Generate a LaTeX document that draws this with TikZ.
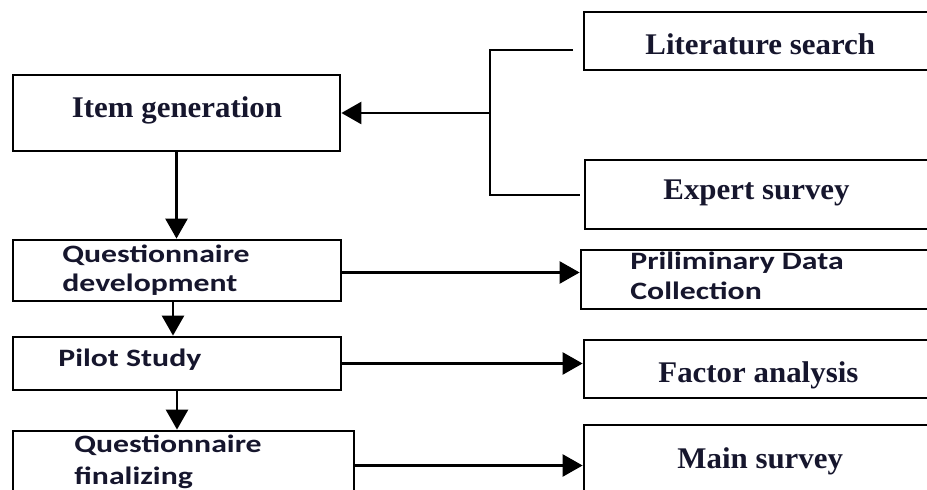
\documentclass[tikz,border=0pt]{standalone}
\usepackage{fontspec}
\newfontfamily\serfont[FakeStretch=1.03]{Liberation Serif}
\newfontfamily\calfont[FakeStretch=1.27]{Carlito}
\usetikzlibrary{arrows.meta,fit}
\definecolor{inkc}{RGB}{22,22,45}
\begin{document}
\begin{tikzpicture}[x=0.5pt,y=-0.5pt,
  box/.style={draw=black,line width=1.4pt,inner sep=0pt,rectangle},
  serifT/.style={font=\serfont\bfseries\fontsize{15pt}{18pt}\selectfont,inner sep=0pt,text=inkc},
  calT/.style={font=\calfont\bfseries\fontsize{12.5pt}{15pt}\selectfont,inner sep=0pt,anchor=base west,text=inkc},
  arr/.style={line width=1.3pt,-{Triangle[length=10pt,width=11pt]}},
  brk/.style={line width=1.1pt}]
\clip (0,0) rectangle (927,490);
\fill[white] (0,0) rectangle (927,490);
% left column
\node[box,fit={(13,75) (340,151)}] (ig) {};
\node[box,fit={(13,240) (341,301)}] (qdev) {};
\node[box,fit={(13,337) (341,390)}] (pilot) {};
\node[box,fit={(13,431) (354,500)}] (qfin) {};
% right column
\node[box,fit={(584,12) (940,70)}] (lit) {};
\node[box,fit={(585,160) (940,229)}] (exp) {};
\node[box,fit={(581,250) (940,309)}] (pre) {};
\node[box,fit={(584,340) (940,398)}] (fac) {};
\node[box,fit={(584,425) (940,505)}] (main) {};
% texts
\node[serifT,anchor=base] (igT) at (177,118) {Item generation};
\node[serifT,anchor=base west] (litT) at (645,55) {Literature search};
\node[serifT,anchor=base west] (expT) at (663,200) {Expert survey};
\node[serifT,anchor=base west] (facT) at (658,383) {Factor analysis};
\node[serifT,anchor=base west] (mainT) at (677,469) {Main survey};
\node[calT] (qdevT1) at (62,263) {Questionnaire};
\node[calT] (qdevT2) at (62,292) {development};
\node[calT] (pilotT) at (58,367) {Pilot Study};
\node[calT] (qfinT1) at (74,453) {Questionnaire};
\node[calT] (qfinT2) at (74,485) {finalizing};
\node[calT] (preT1) at (630,270) {Priliminary Data};
\node[calT] (preT2) at (630,300) {Collection};
% bracket
\coordinate (bTop) at (573,50);
\coordinate (bBot) at (580,195);
\coordinate (bMid) at (490,113);
\draw[brk] (bTop) -- (490,50) -- (490,195) -- (bBot);
\draw[arr] (bMid) -- (ig.east);
% vertical arrows
\draw[arr] (ig.south) -- (ig.south |- qdev.north);
\draw[arr] ([xshift=-2pt]qdev.south) -- ([xshift=-2pt]qdev.south |- pilot.north);
\draw[arr] (pilot.south) -- (pilot.south |- qfin.north);
% horizontal arrows
\draw[arr] ([yshift=-1pt]qdev.east) -- ([yshift=-1pt]qdev.east -| pre.west);
\draw[arr] (pilot.east) -- (pilot.east -| fac.west);
\draw[arr] (qfin.east) -- (qfin.east -| main.west);
\end{tikzpicture}
\end{document}
